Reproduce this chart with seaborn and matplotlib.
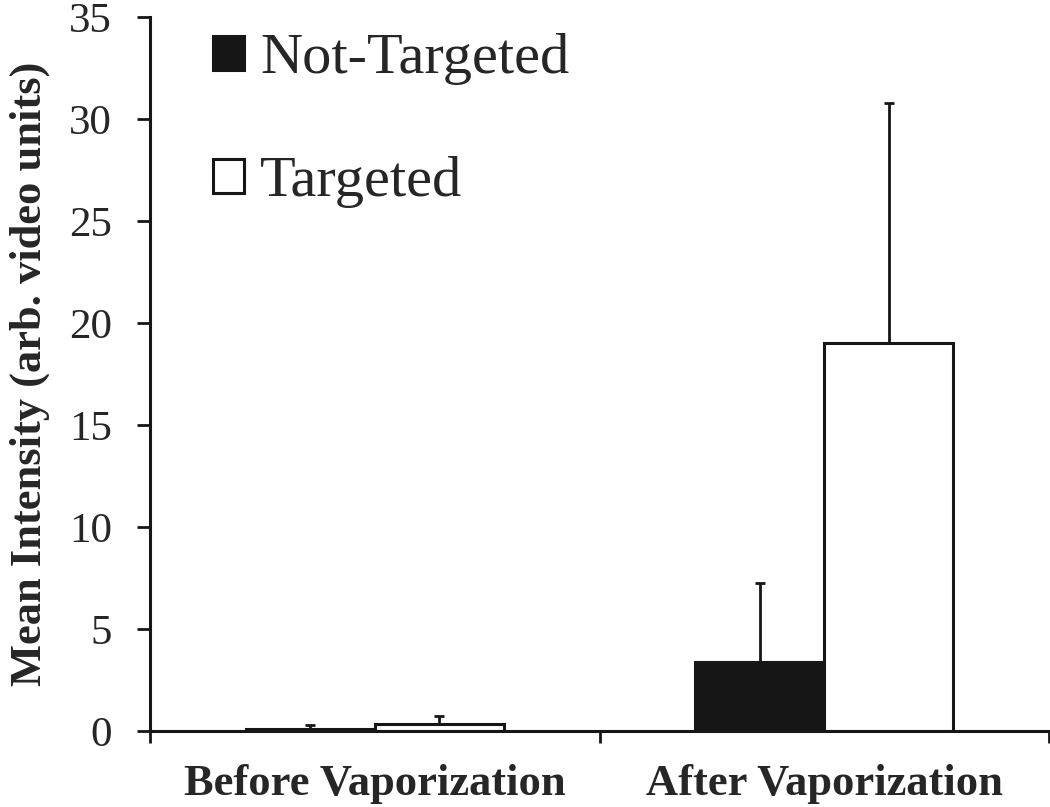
import pandas as pd
import matplotlib.pyplot as plt
import seaborn as sns

# values
phases = ["Before Vaporization", "After Vaporization"]
groups = ["Not-Targeted", "Targeted"]
not_targeted_mean = [0.12, 3.38]
not_targeted_err = [0.18, 3.87]
targeted_mean = [0.37, 19.0]
targeted_err = [0.38, 11.8]

df = pd.DataFrame({
    "Phase": phases * 2,
    "Group": [groups[0]] * 2 + [groups[1]] * 2,
    "Intensity": not_targeted_mean + targeted_mean,
    "Err": not_targeted_err + targeted_err,
})

sns.set_style("ticks")
plt.rcParams["font.family"] = ["Liberation Serif", "DejaVu Serif"]

fig = plt.figure(figsize=(10.5, 8.07), dpi=100)
ax = fig.add_axes([0.143, 0.094, 0.856, 0.885])

sns.barplot(
    data=df, x="Phase", y="Intensity", hue="Group",
    order=phases, hue_order=groups,
    palette={"Not-Targeted": "#161616", "Targeted": "white"},
    edgecolor="#161616", linewidth=2.2, width=0.575,
    errorbar=None, ax=ax,
)

# upper-only error bars at bar centres
for bars, grp in zip(ax.containers, groups):
    sub = df[df["Group"] == grp].set_index("Phase").loc[phases]
    xs = [b.get_x() + b.get_width() / 2 for b in bars]
    ax.errorbar(xs, sub["Intensity"], yerr=[[0] * len(xs), sub["Err"]],
                fmt="none", ecolor="#161616", elinewidth=2, capsize=3.5,
                capthick=2, zorder=3)

ax.set_xlim(-0.5, 1.5)
ax.set_ylim(0, 35)
ax.set_yticks(range(0, 36, 5))
ax.set_xlabel("")
ax.set_ylabel("Mean Intensity (arb. video units)", fontsize=32,
              fontweight="bold", labelpad=14)

ax.tick_params(axis="y", labelsize=31, width=2, length=9.5, direction="out",
               color="#161616", pad=18)
ax.tick_params(axis="x", which="major", length=0, labelsize=32, pad=24)
for lbl in ax.get_xticklabels():
    lbl.set_fontweight("bold")
ax.set_xticks([-0.5, 0.5, 1.5], minor=True)
ax.tick_params(axis="x", which="minor", length=8.5, width=2, direction="out",
               color="#161616")

sns.despine(ax=ax, top=True, right=True)
for side in ["left", "bottom"]:
    ax.spines[side].set_linewidth(2.2)
    ax.spines[side].set_color("#161616")

handles, labels = ax.get_legend_handles_labels()
ax.legend(handles, labels, loc="upper left", bbox_to_anchor=(0.038, 1.018),
          frameon=False, fontsize=42, handlelength=0.52, handleheight=0.52,
          handletextpad=0.28, labelspacing=1.22, borderpad=0)

fig.savefig("out.png", dpi=100, facecolor="white")
